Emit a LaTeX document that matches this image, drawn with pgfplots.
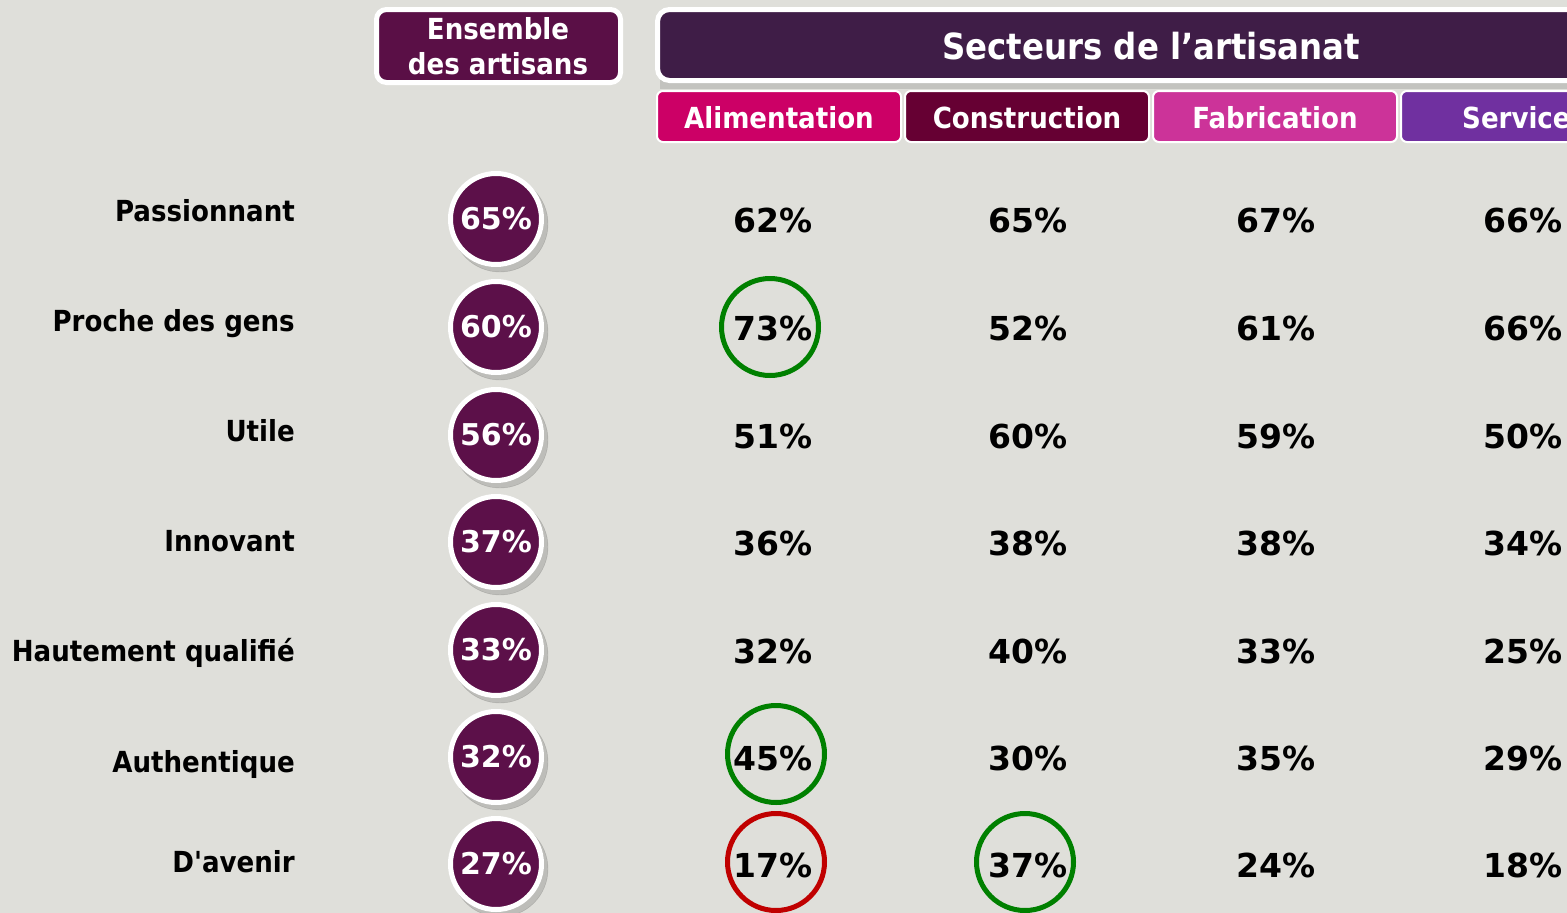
\documentclass[border=0pt]{standalone}
\usepackage{pgfplots}
\usepackage{pgfplotstable}
\pgfplotsset{compat=1.18}
\usepackage{fontspec}
\setmainfont{DejaVu Sans}
\newfontfamily\condfont{DejaVu Sans Condensed}
\definecolor{bg}{HTML}{DFDFDA}
\definecolor{ens}{HTML}{5A0F46}
\definecolor{sect}{HTML}{3F1D47}
\definecolor{ali}{HTML}{CC0066}
\definecolor{con}{HTML}{660033}
\definecolor{fab}{HTML}{CC3399}
\definecolor{ser}{HTML}{7030A0}
\definecolor{circ}{HTML}{5C1049}
\definecolor{hgreen}{HTML}{008000}
\definecolor{hred}{HTML}{C00000}
\newcommand{\numfont}{\bfseries\fontsize{33}{38}\selectfont}
\newcommand{\labfont}{\condfont\bfseries\fontsize{29}{34}\selectfont}

% y: row centre (pixels from top); values in %
\pgfplotstableread{
y   ens ali con fab ser
219 65  62  65  67  66
327 60  73  52  61  66
435 56  51  60  59  50
542 37  36  38  38  34
650 33  32  40  33  25
757 32  45  30  35  29
864 27  17  37  24  18
}\datatable

\begin{document}
\begin{tikzpicture}
\begin{axis}[name=ax, anchor=south west, at={(0,0)},
  x=1pt, y=1pt, xmin=0, xmax=1567, ymin=0, ymax=913, y dir=reverse,
  hide axis, clip=false,
  every node near coord/.append style={anchor=center},
  nodes near coords align={center}]
\fill[bg] (axis cs:0,0) rectangle (axis cs:1567,913);

% headers
\fill[black, opacity=0.12] (axis cs:660,80) rectangle (axis cs:1700,89);
\draw[white, line width=5pt, fill=ens, rounded corners=10pt]
  (axis cs:376.5,9.5) rectangle (axis cs:620.5,82.5);
\node[white, align=center, font=\condfont\bfseries\fontsize{29}{35}\selectfont]
  at (axis cs:498,46) {Ensemble\\des artisans};
\draw[white, line width=5pt, fill=sect, rounded corners=12pt]
  (axis cs:657.5,9.5) rectangle (axis cs:1700,80.5);
\node[white, font=\condfont\bfseries\fontsize{36}{40}\selectfont] at (axis cs:1151,46) {Secteurs de l’artisanat};

\draw[white, line width=2pt, fill=ali, rounded corners=6pt] (axis cs:657,91) rectangle (axis cs:901,142);
\draw[white, line width=2pt, fill=con, rounded corners=6pt] (axis cs:905,91) rectangle (axis cs:1149,142);
\draw[white, line width=2pt, fill=fab, rounded corners=6pt] (axis cs:1153,91) rectangle (axis cs:1397,142);
\draw[white, line width=2pt, fill=ser, rounded corners=6pt] (axis cs:1401,91) rectangle (axis cs:1645,142);
\node[white, font=\labfont] at (axis cs:779,118) {Alimentation};
\node[white, font=\labfont] at (axis cs:1027,118) {Construction};
\node[white, font=\labfont] at (axis cs:1275,118) {Fabrication};
\node[white, font=\labfont, anchor=west, inner sep=0pt] at (axis cs:1462,118) {Service};

% row labels
\begin{scope}[every node/.style={anchor=base east, inner sep=0pt, font=\labfont}]
\node at (axis cs:295,221) {Passionnant};
\node at (axis cs:295,331) {Proche des gens};
\node at (axis cs:295,441) {Utile};
\node at (axis cs:295,551) {Innovant};
\node at (axis cs:295,661) {Hautement qualifié};
\node at (axis cs:295,772) {Authentique};
\node at (axis cs:295,872) {D{\char"0027}avenir};
\end{scope}

% shadows of the overall circles
\addplot[only marks, mark=*, mark size=48pt,
  mark options={fill=black, draw=none, opacity=0.15, xshift=4pt, yshift=-5pt}]
  table[x expr=496, y=y] {\datatable};
% overall circles
\addplot[only marks, mark=*, mark size=45.5pt,
  mark options={fill=circ, draw=white, line width=5pt},
  nodes near coords={\pgfplotspointmeta\%}, point meta=explicit symbolic,
  every node near coord/.append style={text=white, font=\bfseries\fontsize{30}{36}\selectfont}]
  table[x expr=496, y=y, meta=ens] {\datatable};

% sector values
\pgfplotsset{secval/.style={only marks, mark=*, mark size=0pt, mark options={draw=none, fill=none},
  nodes near coords={\pgfplotspointmeta\%}, point meta=explicit symbolic,
  every node near coord/.append style={text=black, font=\numfont}}}
\addplot[secval] table[x expr=773, y expr=\thisrow{y}+1, meta=ali] {\datatable};
\addplot[secval] table[x expr=1028, y expr=\thisrow{y}+1, meta=con] {\datatable};
\addplot[secval] table[x expr=1276, y expr=\thisrow{y}+1, meta=fab] {\datatable};
\addplot[secval] table[x expr=1523, y expr=\thisrow{y}+1, meta=ser] {\datatable};

% highlights
\addplot[only marks, mark=o, mark size=48.5pt, mark options={draw=hgreen, line width=5pt}]
  coordinates {(770,327) (776,754) (1025,862)};
\addplot[only marks, mark=o, mark size=48.5pt, mark options={draw=hred, line width=5pt}]
  coordinates {(776,862)};
\end{axis}
\pgfresetboundingbox
\path[use as bounding box] (ax.south west) rectangle (ax.north east);
\end{tikzpicture}
\end{document}
